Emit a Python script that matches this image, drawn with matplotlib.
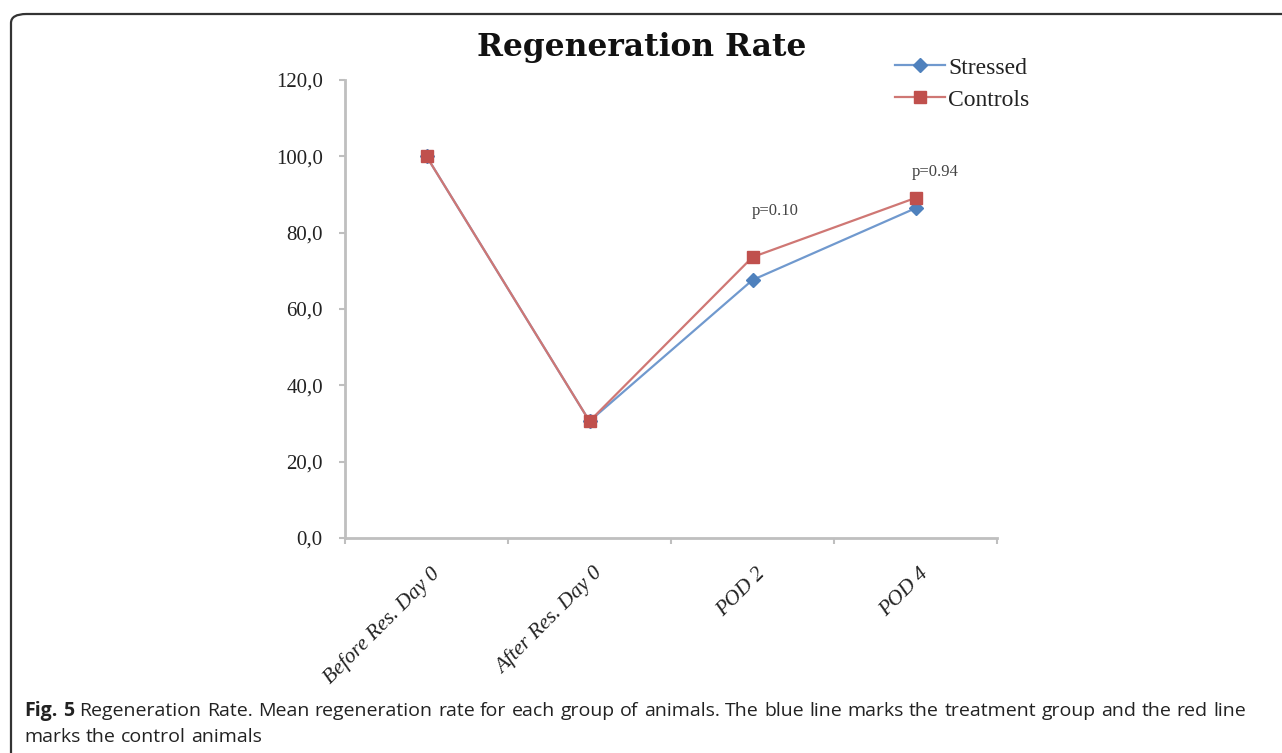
import numpy as np
import matplotlib.pyplot as plt
from matplotlib.patches import FancyBboxPatch

categories = ['Before Res. Day 0', 'After Res. Day 0', 'POD 2', 'POD 4']
stressed = [100.0, 30.6, 67.6, 86.4]
controls = [100.0, 30.6, 73.6, 89.1]
p_labels = ['p=0.10', 'p=0.94']
p_pos = [2.14, 3.12]
p_y = [85.7, 95.9]
yticks = [0, 20, 40, 60, 80, 100, 120]

caption_line1 = ("Regeneration Rate. Mean regeneration rate for each group of animals. "
                 "The blue line marks the treatment group and the red line")
caption_line2 = "marks the control animals"

W, H = 1282, 753
fig = plt.figure(figsize=(W / 100, H / 100), dpi=100)

serif = ['Liberation Serif', 'DejaVu Serif']
sans = ['Open Sans', 'DejaVu Sans']

# outer frame, open to the right and bottom
frame = FancyBboxPatch((11 / W, -0.2), 1.2, 1.2 - 14 / H,
                       boxstyle='round,pad=0,rounding_size=0.012',
                       transform=fig.transFigure, fill=False,
                       edgecolor='#333333', linewidth=1.6, clip_on=False)
fig.patches.append(frame)

ax = fig.add_axes([345 / W, 1 - 538 / H, (997 - 345) / W, (538 - 80) / H])
x = np.arange(len(categories))

ax.plot(x, stressed, color='#7099CE', lw=1.6, marker='D', ms=7,
        mfc='#4F81BD', mec='#4F81BD', label='Stressed', zorder=3)
ax.plot(x, controls, color='#CF7774', lw=1.6, marker='s', ms=8.5,
        mfc='#C0504D', mec='#C0504D', label='Controls', zorder=4)

ax.set_xlim(-0.5, len(categories) - 0.5)
ax.set_ylim(0, 120)
ax.set_yticks(yticks)
ax.set_yticklabels([f'{v:.1f}'.replace('.', ',') for v in yticks],
                   family=serif, fontsize=15, color='#222222')
ax.set_xticks(np.arange(len(categories) + 1) - 0.5)
ax.set_xticklabels([])
ax.tick_params(axis='both', direction='out', length=4.5, width=1.5,
               color='#BFBFBF')
ax.tick_params(axis='y', pad=11.5)
for s in ['top', 'right']:
    ax.spines[s].set_visible(False)
for s in ['left', 'bottom']:
    ax.spines[s].set_color('#BFBFBF')
    ax.spines[s].set_linewidth(2)

for i, lab in enumerate(categories):
    ax.annotate(lab, xy=(i, 0), xycoords=('data', 'axes fraction'),
                xytext=(10, -33), textcoords='offset pixels',
                rotation=45, rotation_mode='anchor', ha='right', va='center',
                family=serif, style='italic', fontsize=15.5, color='#222222')

for xp, yp, t in zip(p_pos, p_y, p_labels):
    ax.text(xp, yp, t, ha='center', va='center', family=serif,
            fontsize=12, color='#444444')

fig.text(642 / W, 1 - 56 / H, 'Regeneration Rate', ha='center', va='baseline',
         family='DejaVu Serif', fontweight='bold', fontsize=22.5, color='#111111')

leg = fig.legend(loc='upper left', bbox_to_anchor=(895 / W, 1 - 57 / H),
                 frameon=False, prop={'family': serif, 'size': 17},
                 handlelength=2.1, handletextpad=0.15, labelspacing=0.45,
                 borderaxespad=0, borderpad=0)
for t in leg.get_texts():
    t.set_color('#222222')

# caption, first line justified
renderer = fig.canvas.get_renderer()
left, right = 24, 1246
words = [('Fig.', 'bold'), ('5', 'bold')] + [(w, 'normal') for w in caption_line1.split()]
texts = []
for w, wt in words:
    t = fig.text(0, 1 - 716 / H, w, ha='left', va='baseline', family=sans,
                 fontweight=wt, fontsize=14, color='#222222')
    texts.append(t)
widths = [t.get_window_extent(renderer).width for t in texts]
gap = (right - left - sum(widths)) / (len(texts) - 1)
xc = left
for t, wd in zip(texts, widths):
    t.set_x(xc / W)
    xc += wd + gap

xc = left
for w in caption_line2.split():
    t = fig.text(xc / W, 1 - 742 / H, w, ha='left', va='baseline', family=sans,
                 fontsize=14, color='#222222')
    xc += t.get_window_extent(renderer).width + gap

fig.savefig('out.png', dpi=100)
